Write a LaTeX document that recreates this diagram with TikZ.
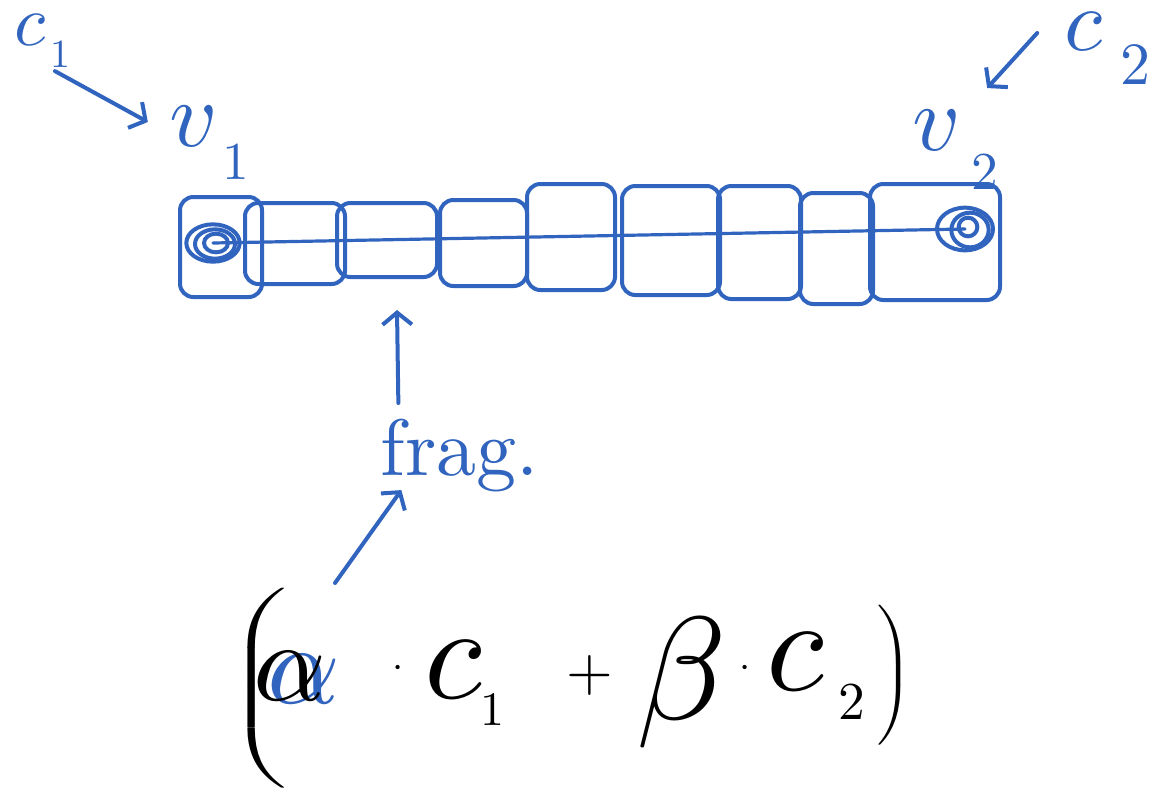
\documentclass[tikz,border=0pt]{standalone}
\usetikzlibrary{arrows.meta,calc,fit}
\definecolor{ink}{RGB}{48,100,190}
\begin{document}
\begin{tikzpicture}[x=0.75pt,y=-0.75pt,
  pen/.style={draw=ink, line width=3pt, line cap=round, line join=round},
  fragbox/.style={pen, rounded corners=10pt, inner sep=0pt},
  lbl/.style={text=ink, inner sep=0pt},
  blk/.style={text=black, inner sep=0pt},
  arr/.style={pen, -{Straight Barb[length=9pt,width=22pt]}}]
\useasboundingbox (0,0) rectangle (1157,797);

% fragment boxes
\node[fragbox, fit={(180,197)(262,297)}] (f1) {};
\node[fragbox, fit={(245,203)(345,284)}] (f2) {};
\node[fragbox, fit={(337,203)(437,277)}] (f3) {};
\node[fragbox, fit={(440,200)(527,286)}] (f4) {};
\node[fragbox, fit={(527,184)(615,290)}] (f5) {};
\node[fragbox, fit={(622,186)(720,295)}] (f6) {};
\node[fragbox, fit={(718,186)(801,299)}] (f7) {};
\node[fragbox, fit={(800,193)(873,304)}] (f8) {};
\node[fragbox, fit={(870,184)(1000,300)}] (f9) {};

% end points
\coordinate (p1) at (213,243);
\coordinate (p2) at (965,229);
\draw[pen, line width=2.4pt] (p1) -- (p2);
\draw[pen] (p1) ellipse [x radius=20pt, y radius=14pt];
\draw[pen] ($(p1)+(2,1)$) ellipse [x radius=15pt, y radius=11pt];
\draw[pen] ($(p1)+(3,0)$) ellipse [x radius=9pt, y radius=7pt];
\draw[pen] (p2) ellipse [x radius=21pt, y radius=16pt];
\draw[pen] ($(p2)+(5,1)$) ellipse [x radius=14pt, y radius=13pt];
\draw[pen] ($(p2)+(3,-2)$) ellipse [x radius=7pt, y radius=7pt];

% labels
\node[lbl, scale=5.4] (c1) at (30,30) {$c$};
\node[lbl, scale=3] (c1s) at (60,54) {1};
\node[lbl, scale=7] (v1) at (194,126) {$v$};
\node[lbl, scale=4] (v1s) at (236,162) {1};
\node[lbl, scale=6.6] (c2) at (1084,32) {$c$};
\node[lbl, scale=4.5] (c2s) at (1135,65) {2};
\node[lbl, scale=7] (v2) at (937,130) {$v$};
\node[lbl, scale=4] (v2s) at (985,172) {2};
\node[lbl, scale=6, anchor=base] (fr) at (460,475) {frag.};

% formula
\node[blk, xscale=5, yscale=2.5] (lp) at (262,692) {$\left(\vrule height 30pt depth 30pt width 0pt\right.$};
\node[lbl, scale=8.5] (al2) at (304,679) {$\alpha$};
\node[blk, scale=8.5] (al) at (290,676) {$\alpha$};
\node[blk, scale=3, anchor=base] (d1) at (398,677) {$\cdot$};
\node[blk, scale=10] (cc1) at (453,670) {$c$};
\node[blk, scale=3.6] (cc1s) at (492,710) {1};
\node[blk, scale=4.5] (pl) at (590,675) {$+$};
\node[blk, scale=11] (be) at (682,683) {$\beta$};
\node[blk, scale=3, anchor=base] (d2) at (745,677) {$\cdot$};
\node[blk, scale=10] (cc2) at (795,662) {$c$};
\node[blk, scale=4] (cc2s) at (852,702) {2};
\node[blk, xscale=3, yscale=2.5] (rp) at (893,679) {$\left.\vrule height 20.7pt depth 20.7pt width 0pt\right)$};

% connectors
\draw[arr] ([shift={(-5,3)}]c1s.south) -- ([shift={(-20,-4)}]v1.west);
\draw[arr] ([shift={(-26,1)}]c2.west) -- ([shift={(24,-20)}]v2.north east);
\draw[arr] ([shift={(19,-14)}]fr.north west) -- ([shift={(10,31)}]f3.south);
\draw[arr] ([shift={(73,-109)}]lp.center) -- ([shift={(22,-3)}]fr.south west);
\end{tikzpicture}
\end{document}
